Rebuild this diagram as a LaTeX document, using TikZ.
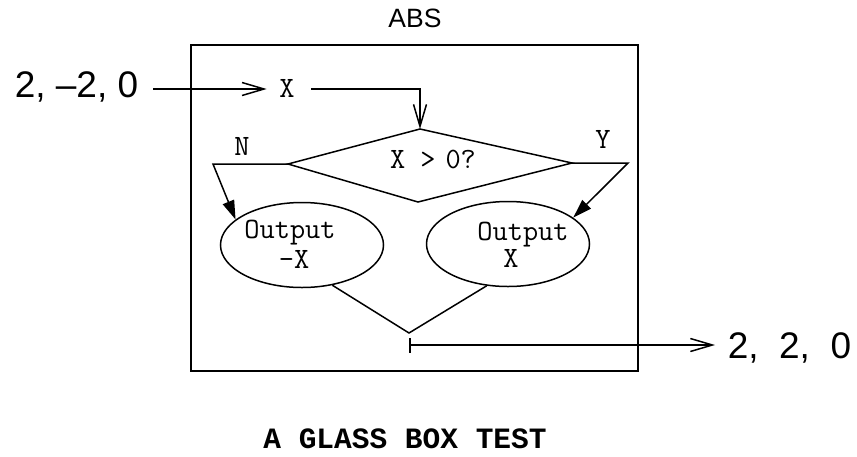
\documentclass[tikz,border=0pt]{standalone}
\usepackage{fontspec}
\setmainfont{Liberation Sans}
\newfontfamily\captionfont{Liberation Mono}
\usetikzlibrary{arrows.meta,shapes.geometric}

\begin{document}
\begin{tikzpicture}[x=1pt,y=-1pt,
  line width=1.5pt,
  sanslabel/.style={font=\fontsize{37}{40}\selectfont, inner sep=0pt},
  codelabel/.style={font=\ttfamily\fontsize{29.5}{32}\selectfont, inner sep=0pt},
  outbox/.style={draw, ellipse, minimum width=163pt, minimum height=85pt, inner sep=0pt},
  openarrow/.style={-{Straight Barb[length=22pt,width=13pt]}},
  filledarrow/.style={-{Triangle[length=19pt,width=12pt]}},
]
\useasboundingbox (0,0) rectangle (857,456);

% the enclosing module
\node[draw, line width=2pt, minimum width=447pt, minimum height=326pt, inner sep=0pt] (absbox) at (414.5,208) {};
\node[font=\fontsize{26.5}{30}\selectfont, anchor=base, inner sep=0pt] (abstitle) at (415,27) {ABS};

% input values and the variable X
\node[sanslabel, anchor=base east] (inval) at (139,97) {2, \textendash2, 0};
\node[codelabel, anchor=base] (xin) at (287,97) {X};
\draw[openarrow] ([shift={(14,-8)}]inval.base east) -- ([shift={(-12,-8)}]xin.base west);

% decision diamond
\coordinate (dtop) at (420,129);
\coordinate (dright) at (572,163);
\coordinate (dbot) at (418,202);
\coordinate (dleft) at (288,164);
\draw (dtop) -- (dright) -- (dbot) -- (dleft) -- cycle;
\node[codelabel, anchor=base] (cond) at (433,168) {X >\,\,0?};
\draw[openarrow] ([shift={(16,-8)}]xin.base east) -| (dtop);

% the two outputs
\node[outbox] (negout) at (302,245) {};
\node[outbox] (posout) at (508,244) {};
\node[codelabel, anchor=base] (negtxt1) at (290,238) {Output};
\node[codelabel, anchor=base] (negtxt2) at (294,268) {-X};
\node[codelabel, anchor=base] (postxt1) at (523,240) {Output};
\node[codelabel, anchor=base] (postxt2) at (511,267) {X};

% branches
\coordinate (nbend) at (213,164);
\coordinate (ybend) at (628,163);
\draw[filledarrow] (dleft) -- (nbend) -- (negout.159);
\draw[filledarrow] (dright) -- (ybend) -- (posout.22);
\node[codelabel, anchor=base] (nlabel) at (242,155) {N};
\node[codelabel, anchor=base] (ylabel) at (603,148) {Y};

% merge and result
\coordinate (join) at (409,333);
\coordinate (tail) at (409,345);
\draw (negout.-53) -- (join) -- (posout.-117);
\node[sanslabel, anchor=base west] (outval) at (727,358) {2,\ \ 2,\ \ 0};
\draw[{Bar[width=15pt]}-{Straight Barb[length=22pt,width=13pt]}] (tail) -- ([shift={(-12,-13)}]outval.base west);

% caption
\node[font=\captionfont\bfseries\fontsize{29.5}{32}\selectfont, anchor=base, inner sep=0pt] (caption) at (405,448) {A GLASS BOX TEST};
\end{tikzpicture}
\end{document}
